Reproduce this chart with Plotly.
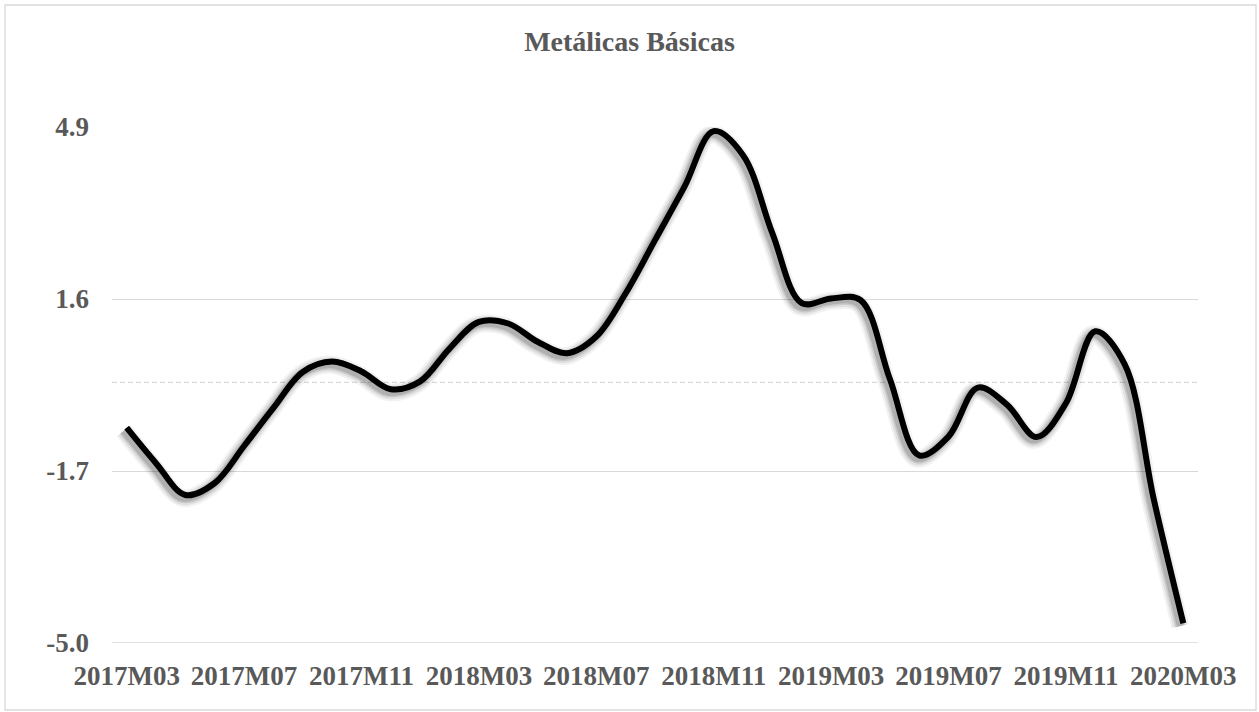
import plotly.graph_objects as go

# Monthly periods, 2017M03 .. 2020M03
months = []
for y in range(2017, 2021):
    for m in range(1, 13):
        if (y == 2017 and m < 3) or (y == 2020 and m > 3):
            continue
        months.append(f"{y}M{m:02d}")

values = [
    -0.87, -1.55, -2.16, -1.93, -1.22, -0.49, 0.20, 0.40, 0.21, -0.13,
    0.02, 0.65, 1.16, 1.13, 0.78, 0.56, 0.88, 1.71, 2.73, 3.75,
    4.82, 4.36, 2.86, 1.52, 1.61, 1.58, 0.07, -1.40, -1.04, -0.10,
    -0.43, -1.05, -0.40, 0.98, 0.35, -2.26, -4.62,
]

y_ticks = [-5.0, -1.7, 1.6, 4.9]
x_ticks = months[::4]
title_text = "Metálicas Básicas"

W, H = 1259, 712
L, R, T, B = 112, 61, 127, 69
plot_w, plot_h = W - L - R, H - T - B

x_range = [-0.5, len(months) - 0.5]
y_range = [-5.0, 4.9]

FONT = "Palatino Linotype, Book Antiqua, Liberation Serif, serif"
GREY = "#595959"
GRID = "#d9d9d9"

fig = go.Figure()

# soft drop shadow: same series on an overlay axis shifted a few pixels up-left
dx_px, dy_px = 3, 3
dx = dx_px * (x_range[1] - x_range[0]) / plot_w
dy = dy_px * (y_range[1] - y_range[0]) / plot_h
for width, alpha in [(18, 0.05), (14, 0.07), (10, 0.10), (7, 0.12)]:
    fig.add_trace(go.Scatter(
        x=list(range(len(months))), y=values, mode="lines",
        line=dict(color=f"rgba(0,0,0,{alpha})", width=width,
                  shape="spline", smoothing=1.0),
        xaxis="x2", yaxis="y2", hoverinfo="skip", showlegend=False,
    ))

fig.add_trace(go.Scatter(
    x=months, y=values, mode="lines",
    line=dict(color="#000000", width=6, shape="spline", smoothing=1.0),
    showlegend=False,
))

fig.update_layout(
    width=W, height=H,
    margin=dict(l=L, r=R, t=T, b=B),
    paper_bgcolor="white", plot_bgcolor="white",
    font=dict(family=FONT, color=GREY),
    title=dict(text=f"<b>{title_text}</b>", x=0.5, xanchor="center",
               y=1 - 41 / H, yanchor="middle",
               font=dict(family=FONT, size=28, color=GREY)),
    xaxis=dict(
        type="category", categoryorder="array", categoryarray=months,
        range=x_range, tickmode="array", tickvals=x_ticks,
        ticktext=[f"<b>{t}</b>" for t in x_ticks],
        showgrid=False, zeroline=False, showline=False, ticks="",
        tickfont=dict(family=FONT, size=27, color=GREY),
        ticklabelstandoff=14,
    ),
    yaxis=dict(
        range=y_range, tickmode="array", tickvals=y_ticks,
        ticktext=[f"<b>{v:.1f}</b>" for v in y_ticks],
        showgrid=True, gridcolor=GRID, gridwidth=1.3,
        zeroline=False, showline=False, ticks="",
        tickfont=dict(family=FONT, size=27, color=GREY),
        ticklabelstandoff=22,
    ),
    xaxis2=dict(overlaying="x", range=[x_range[0] + dx, x_range[1] + dx],
                visible=False, showgrid=False),
    yaxis2=dict(overlaying="y", range=[y_range[0] + dy, y_range[1] + dy],
                visible=False, showgrid=False),
)

# dashed zero reference line
fig.add_shape(type="line", xref="paper", x0=0, x1=1, yref="y", y0=0, y1=0,
              line=dict(color=GRID, width=1.3, dash="5px,3px"), layer="below")

# bottom gridline at the range edge
fig.add_shape(type="line", xref="paper", x0=0, x1=1, yref="y", y0=-5.0, y1=-5.0,
              line=dict(color=GRID, width=1.3), layer="below")

# chart frame
fig.add_shape(type="rect", xref="paper", yref="paper",
              x0=(5 - L) / plot_w, x1=(1256 - L) / plot_w,
              y0=(T + plot_h - 710) / plot_h, y1=(T + plot_h - 5) / plot_h,
              line=dict(color="#d9d9d9", width=1.3), fillcolor="rgba(0,0,0,0)",
              layer="below")

fig.write_html("out.html")
